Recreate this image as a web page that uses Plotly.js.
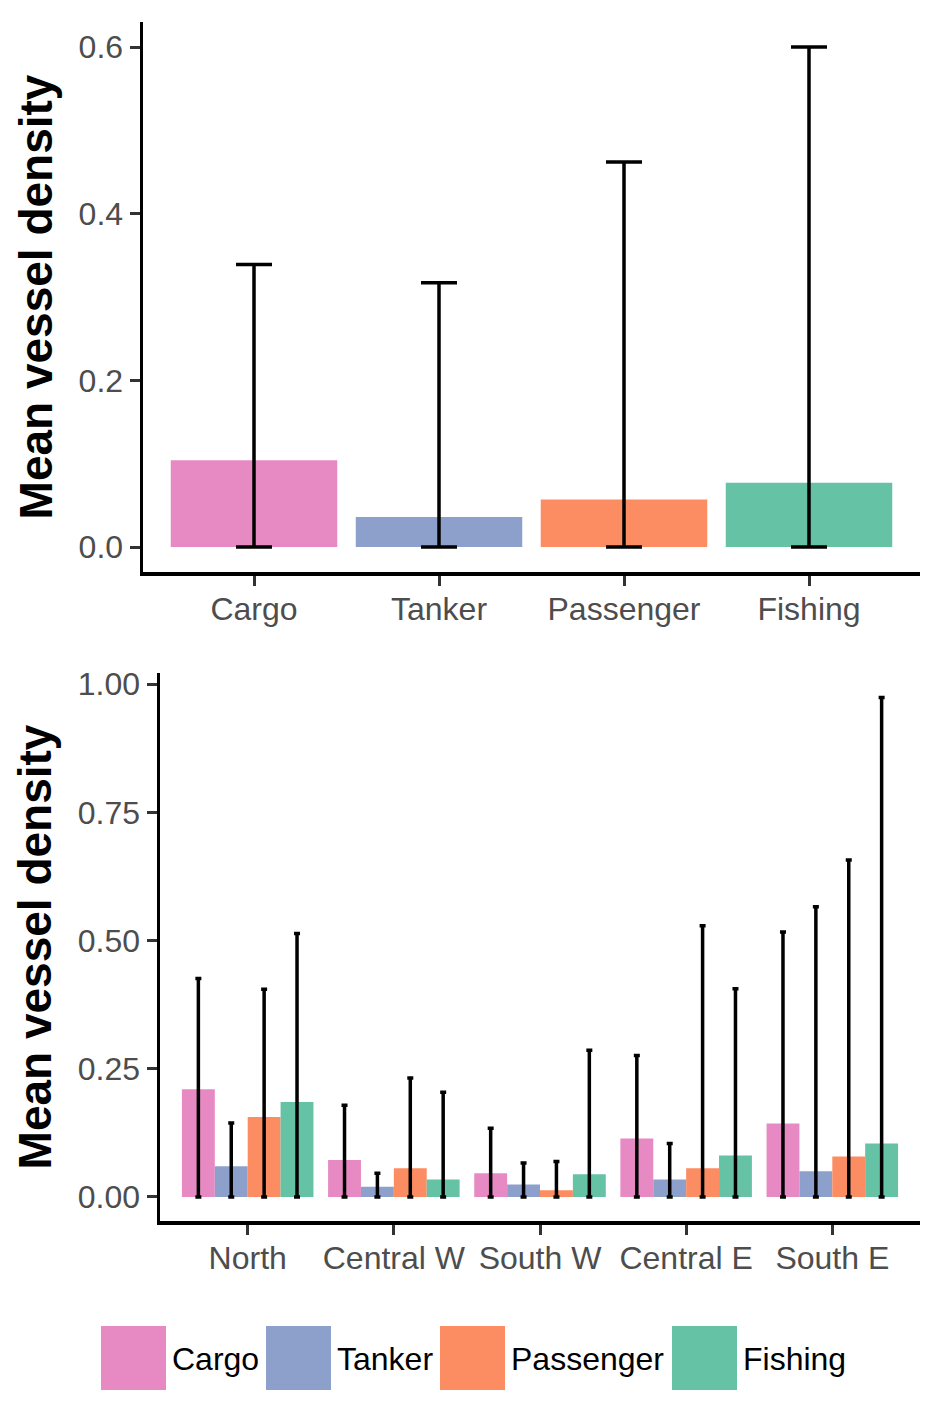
<!DOCTYPE html>
<html>
<head>
<meta charset="utf-8">
<script src="https://cdn.plot.ly/plotly-3.0.1.min.js"></script>
<style>html,body{margin:0;padding:0;background:#fff;}#chart{width:944px;height:1417px;}</style>
</head>
<body>
<div id="chart"></div>
<script>
// ---- data ----
var vesselTypes = ["Cargo", "Tanker", "Passenger", "Fishing"];
var typeColors = ["#E78AC3", "#8DA0CB", "#FC8D62", "#66C2A5"];
var overallMean = [0.104, 0.036, 0.057, 0.077];
var overallUpper = [0.339, 0.317, 0.462, 0.600];

var regions = ["North", "Central W", "South W", "Central E", "South E"];
var cargoMean = [0.210, 0.072, 0.046, 0.114, 0.143];
var cargoUpper = [0.426, 0.179, 0.134, 0.276, 0.517];
var tankerMean = [0.060, 0.020, 0.024, 0.034, 0.050];
var tankerUpper = [0.144, 0.046, 0.066, 0.104, 0.566];
var passengerMean = [0.156, 0.056, 0.013, 0.056, 0.079];
var passengerUpper = [0.405, 0.232, 0.069, 0.529, 0.657];
var fishingMean = [0.185, 0.034, 0.044, 0.081, 0.104];
var fishingUpper = [0.514, 0.204, 0.286, 0.406, 0.974];

var regionMeans = [cargoMean, tankerMean, passengerMean, fishingMean];
var regionUppers = [cargoUpper, tankerUpper, passengerUpper, fishingUpper];

// ---- layout constants ----
var W = 944, H = 1417;
var FONT = '"Liberation Sans", Arial, sans-serif';
function px(x) { return x / W; }
function py(y) { return 1 - y / H; }

function plusErr(means, uppers) { return uppers.map(function (u, i) { return u - means[i]; }); }

var traces = [];
traces.push({
  type: 'bar', x: vesselTypes, y: overallMean, xaxis: 'x', yaxis: 'y',
  marker: { color: typeColors }, showlegend: false,
  error_y: { type: 'data', symmetric: false, array: plusErr(overallMean, overallUpper),
             arrayminus: overallMean, color: '#000', thickness: 3.5, width: 18 }
});
vesselTypes.forEach(function (name, k) {
  traces.push({
    type: 'bar', name: name, x: regions, y: regionMeans[k], xaxis: 'x2', yaxis: 'y2',
    marker: { color: typeColors[k] }, showlegend: false,
    error_y: { type: 'data', symmetric: false, array: plusErr(regionMeans[k], regionUppers[k]),
               arrayminus: regionMeans[k], color: '#000', thickness: 3.5, width: 3 }
  });
});

var axisCommon = {
  showline: true, linewidth: 3.5, linecolor: '#000', showgrid: false, zeroline: false,
  ticks: 'outside', ticklen: 10, tickwidth: 3, tickcolor: '#333',
  tickfont: { family: FONT, size: 32, color: '#4D4D4D' }, fixedrange: true
};
function ax(extra) { return Object.assign({}, axisCommon, extra); }

var titleFont = { family: FONT, size: 46, color: '#000', weight: 'bold' };

// custom legend (large swatches)
var legendSwatchX = [101, 266, 440, 672];
var shapes = [], annotations = [];
vesselTypes.forEach(function (name, k) {
  shapes.push({ type: 'rect', xref: 'paper', yref: 'paper',
    x0: px(legendSwatchX[k]), x1: px(legendSwatchX[k] + 65), y0: py(1390), y1: py(1326),
    fillcolor: typeColors[k], line: { width: 0 } });
  annotations.push({ xref: 'paper', yref: 'paper', x: px(legendSwatchX[k] + 69), y: py(1359),
    xanchor: 'left', yanchor: 'middle', showarrow: false, text: name,
    font: { family: FONT, size: 32, color: '#000' } });
});

var layout = {
  width: W, height: H, margin: { l: 0, r: 0, t: 0, b: 0 },
  paper_bgcolor: '#fff', plot_bgcolor: '#fff', showlegend: false,
  barmode: 'group', bargap: 0.1, bargroupgap: 0,
  font: { family: FONT },
  xaxis: ax({ domain: [px(143), px(920)], anchor: 'y', range: [-0.6, 3.6], ticklabelstandoff: -4 }),
  yaxis: ax({ domain: [py(572), py(22)], anchor: 'x', range: [-0.03, 0.63],
              tickvals: [0, 0.2, 0.4, 0.6], tickformat: '.1f',
              title: { text: 'Mean vessel density', font: titleFont, standoff: 12 } }),
  xaxis2: ax({ domain: [px(160), px(920)], anchor: 'y2', range: [-0.6, 4.6], ticklabelstandoff: -4 }),
  yaxis2: ax({ domain: [py(1221), py(673)], anchor: 'x2', range: [-0.047, 1.022],
               tickvals: [0, 0.25, 0.5, 0.75, 1.0], tickformat: '.2f',
               title: { text: 'Mean vessel density', font: titleFont, standoff: 12 } }),
  shapes: shapes, annotations: annotations
};

Plotly.newPlot('chart', traces, layout, { staticPlot: true, displayModeBar: false });
</script>
</body>
</html>
